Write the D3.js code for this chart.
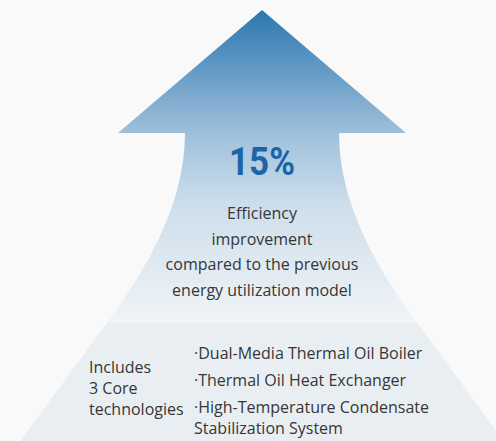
<!DOCTYPE html>
<meta charset="utf-8">
<head>
	<title>Efficiency arrow</title>
</head>

<style>

body{
	margin: 0;
	background-color: #f9f9f9;
}

svg{
	display: block;
}

text{
	font-family: "Open Sans", sans-serif;
	fill: #363636;
}

</style>

<body>

<svg class="chart" width="496" height="441"></svg>

<script src="https://cdnjs.cloudflare.com/ajax/libs/d3/7.8.5/d3.min.js"></script>
<script>

// values
var headline = ['15%'];
var description = ['Efficiency', 'improvement', 'compared to the previous', 'energy utilization model'];
var core_label = ['Includes', '3 Core', 'technologies'];
var core_items = [
	['·Dual-Media Thermal Oil Boiler'],
	['·Thermal Oil Heat Exchanger'],
	['·High-Temperature Condensate', 'Stabilization System']
];

var svg = d3.select('.chart');

// gradient for the arrow
var defs = svg.append('defs');
var grad = defs.append('linearGradient')
	.attr('id', 'arrow_grad')
	.attr('gradientUnits', 'userSpaceOnUse')
	.attr('x1', 0).attr('y1', 10)
	.attr('x2', 0).attr('y2', 323);
var stops = [
	{offset: 0, color: '#2b77b1'},
	{offset: 0.39, color: '#9ebfda'},
	{offset: 0.62, color: '#cddeeb'},
	{offset: 1, color: '#f1f4f7'}
];
grad.selectAll('stop')
	.data(stops)
	.enter()
	.append('stop')
	.attr('offset', function(d){ return d.offset; })
	.attr('stop-color', function(d){ return d.color; });

// arrow outline
var p = d3.path();
p.moveTo(262, 10);
p.lineTo(406, 133);
p.lineTo(339, 133);
p.bezierCurveTo(339, 200, 373, 263, 417, 323);
p.lineTo(107, 323);
p.bezierCurveTo(151, 263, 185, 200, 185, 133);
p.lineTo(118, 133);
p.closePath();

svg.append('path')
	.attr('d', p.toString())
	.style('fill', 'url(#arrow_grad)');

// lower band
var band = d3.path();
band.moveTo(107, 323);
band.lineTo(417, 323);
band.lineTo(504, 441);
band.lineTo(20, 441);
band.closePath();

svg.append('path')
	.attr('d', band.toString())
	.style('fill', '#e9eef3');

// headline
svg.append('g')
	.attr('transform', 'translate(262, 175) scale(0.92, 1)')
	.selectAll('text')
	.data(headline)
	.enter()
	.append('text')
	.attr('text-anchor', 'middle')
	.style('font-family', 'Roboto, sans-serif')
	.style('font-weight', 'bold')
	.style('font-size', '38px')
	.style('fill', '#1b64a7')
	.text(function(d){ return d; });

// description
var line_y = d3.scaleLinear().domain([0, 1]).range([219, 244.5]);

svg.append('g')
	.selectAll('text')
	.data(description)
	.enter()
	.append('text')
	.attr('x', 262)
	.attr('y', function(d, i){ return line_y(i); })
	.attr('text-anchor', 'middle')
	.style('font-size', '16px')
	.text(function(d){ return d; });

// core label
var label_y = d3.scaleLinear().domain([0, 1]).range([373, 394]);

svg.append('g')
	.selectAll('text')
	.data(core_label)
	.enter()
	.append('text')
	.attr('x', 89)
	.attr('y', function(d, i){ return label_y(i); })
	.style('font-size', '16px')
	.text(function(d){ return d; });

// core items
var item_y = d3.scaleLinear().domain([0, 1]).range([359, 386]);

var items = svg.append('g')
	.selectAll('text')
	.data(core_items)
	.enter()
	.append('text')
	.attr('x', 194)
	.attr('y', function(d, i){ return item_y(i); })
	.style('font-size', '16px');

items.selectAll('tspan')
	.data(function(d){ return d; })
	.enter()
	.append('tspan')
	.attr('x', 194)
	.attr('dy', function(d, i){ return i ? 20.5 : 0; })
	.text(function(d){ return d; });

</script>

</body>
</html>
